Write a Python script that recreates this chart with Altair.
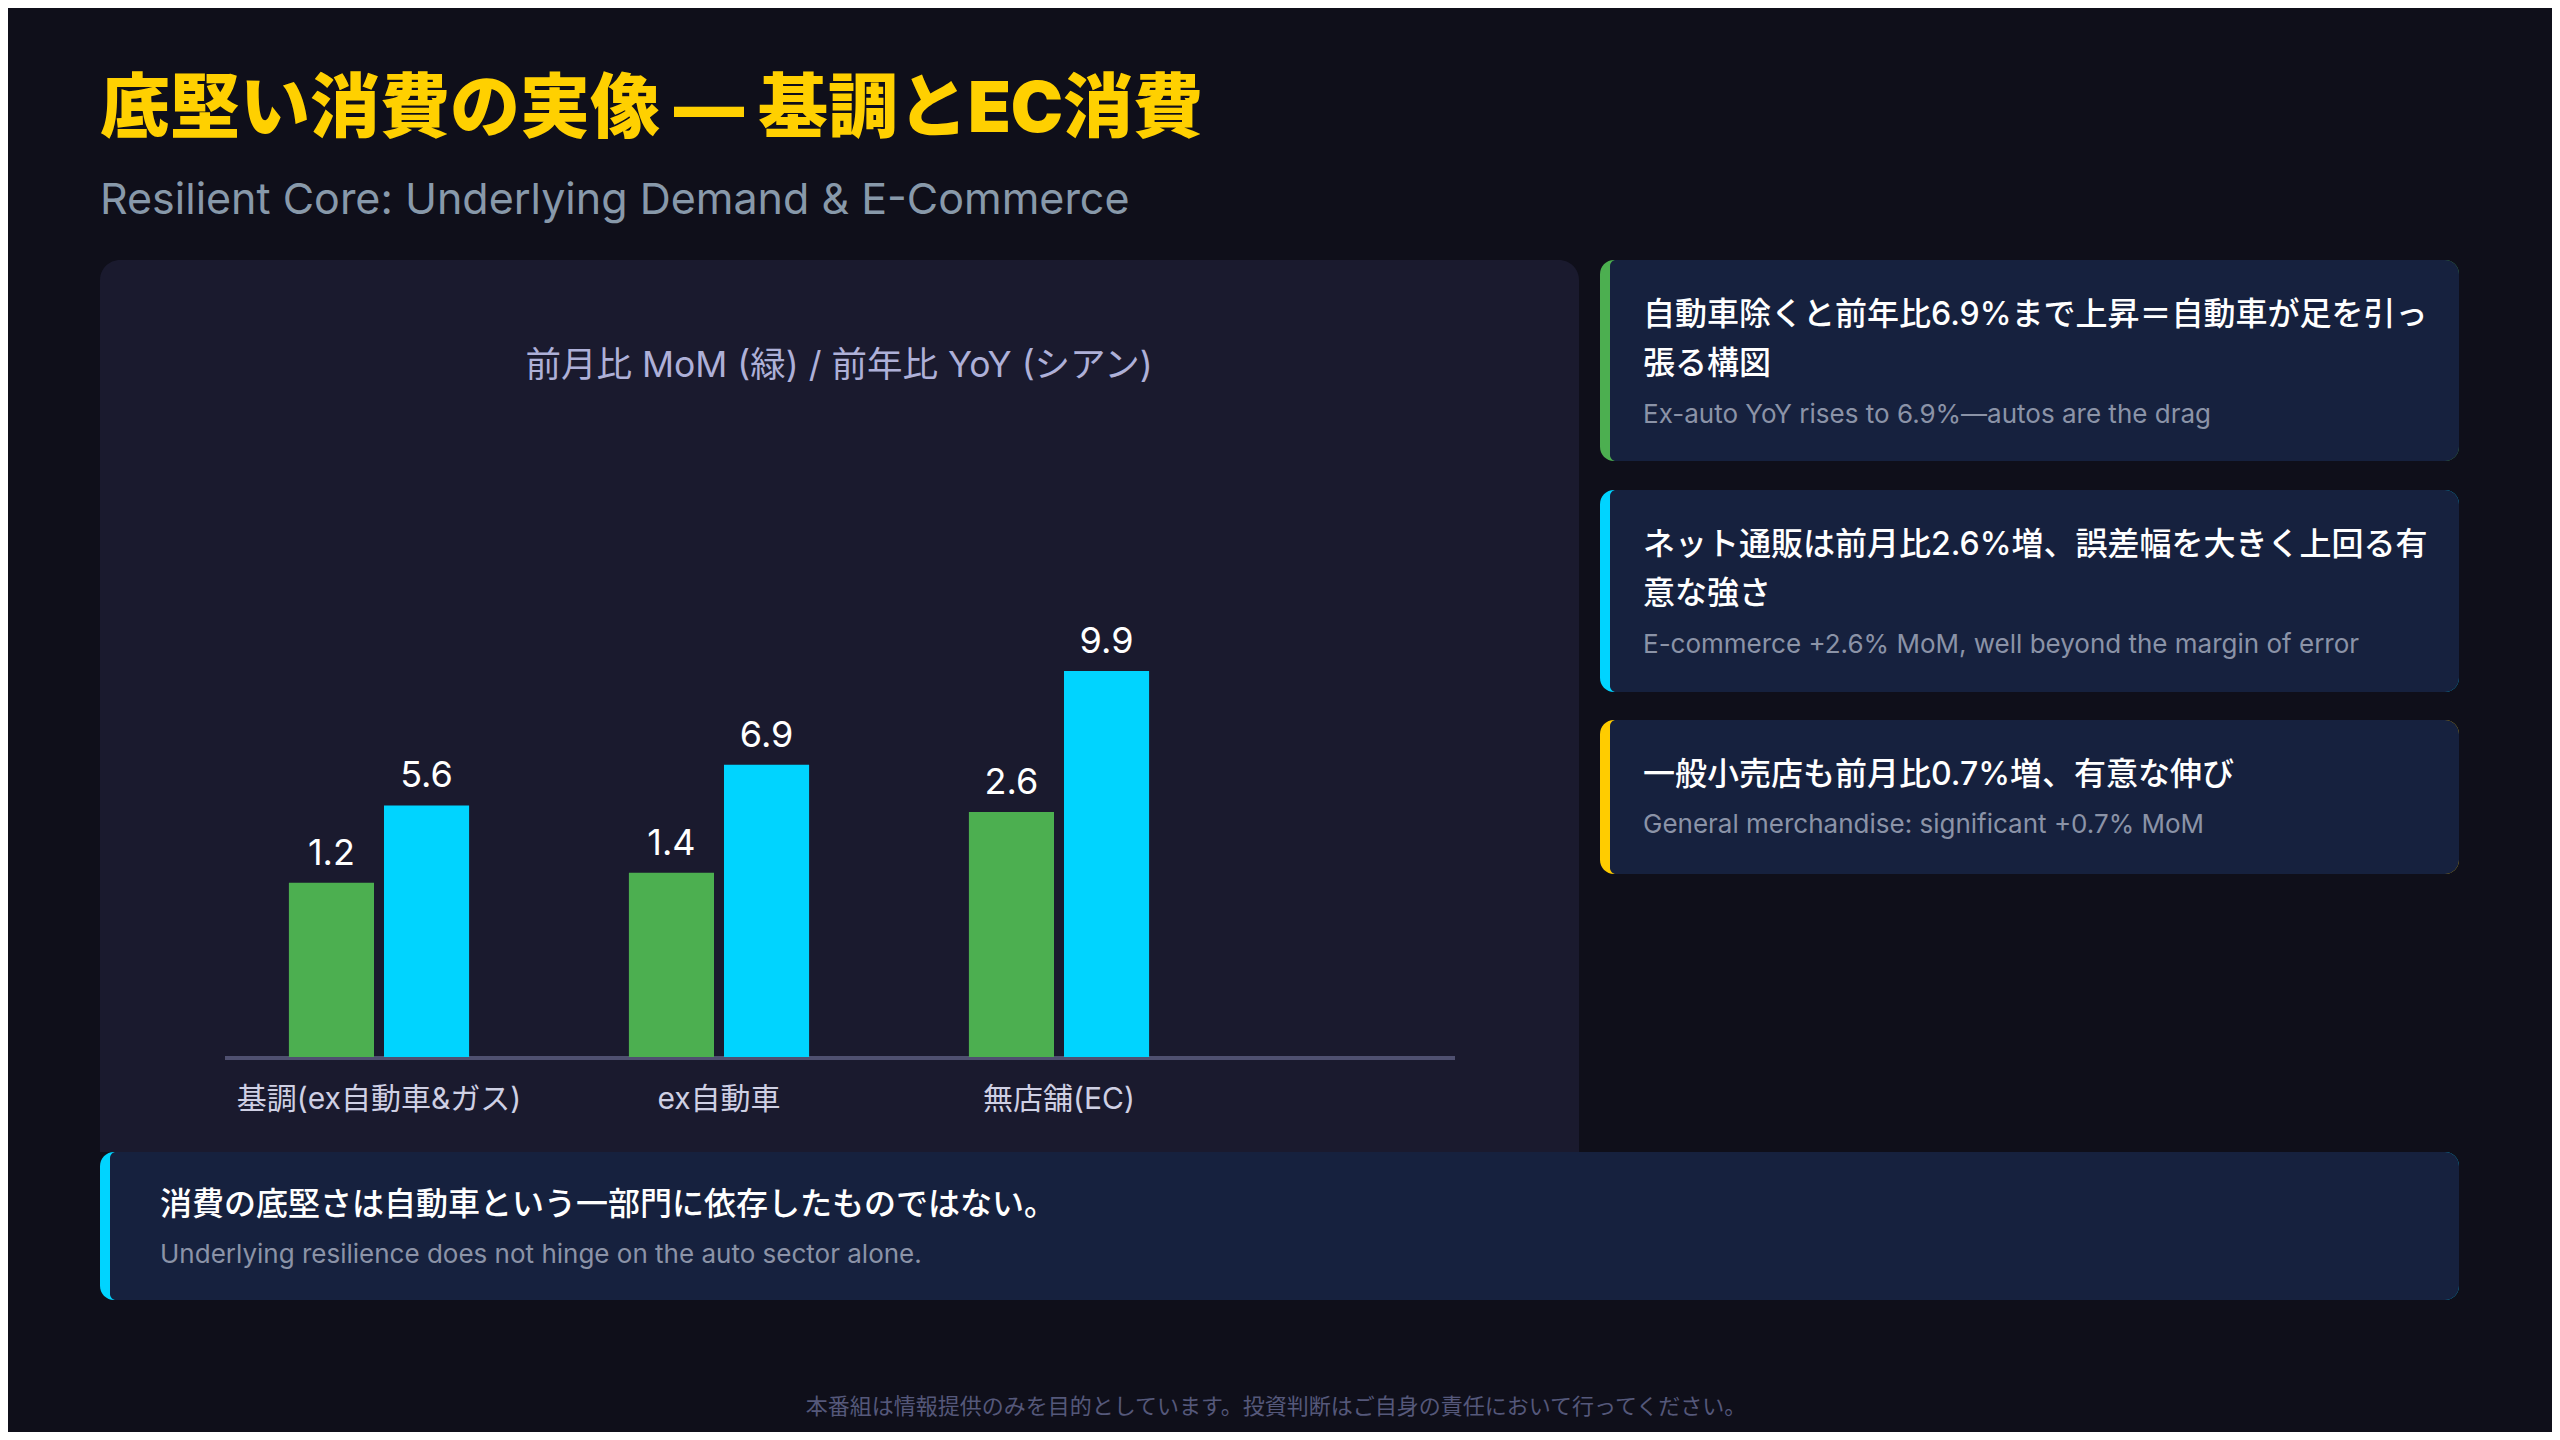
import altair as alt
import pandas as pd

FONT = "Inter, 'Noto Sans CJK JP', sans-serif"

PAGE_BG = "#0f0f1a"
PANEL_BG = "#1a1a2e"
CARD_BG = "#16213e"
GREEN = "#4caf50"
CYAN = "#00d4ff"
YELLOW = "#ffcc00"
GOLD = "#ffd000"
MUTED = "#8b93a7"

# --- data -----------------------------------------------------------------
CATEGORIES = ["基調(ex自動車&ガス)", "ex自動車", "無店舗(EC)"]
SERIES = ["MoM", "YoY"]
MOM = [1.2, 1.4, 2.6]
YOY = [5.6, 6.9, 9.9]

TITLE = "底堅い消費の実像 — 基調とEC消費"
SUBTITLE = "Resilient Core: Underlying Demand & E-Commerce"
CHART_TITLE = "前月比 MoM (緑) / 前年比 YoY (シアン)"

CARD_HEADLINES = [
    ["自動車除くと前年比6.9%まで上昇＝自動車が足を引っ", "張る構図"],
    ["ネット通販は前月比2.6%増、誤差幅を大きく上回る有", "意な強さ"],
    ["一般小売店も前月比0.7%増、有意な伸び"],
]
CARD_NOTES = [
    "Ex-auto YoY rises to 6.9%—autos are the drag",
    "E-commerce +2.6% MoM, well beyond the margin of error",
    "General merchandise: significant +0.7% MoM",
]
BANNER_HEADLINE = "消費の底堅さは自動車という一部門に依存したものではない。"
BANNER_NOTE = "Underlying resilience does not hinge on the auto sector alone."
FOOTER = "本番組は情報提供のみを目的としています。投資判断はご自身の責任において行ってください。"

# --- layout (page pixels; the canvas starts at the 8px body margin) --------
M = 8
W, H = 2560 - 2 * M, 1440 - 2 * M
CARD_ACCENTS = [GREEN, CYAN, YELLOW]
CARD_SPANS = [(260, 461), (490, 692), (720, 874)]
Y_BOTTOM, Y_TOP = 1057, 497
# the two series sit on their own (hidden) value axes
MOM_DOMAIN = [-2.24, 8.82]
YOY_DOMAIN = [-2.44, 15.46]

ONE = pd.DataFrame({"k": [0]})


def box(x, y, x2, y2, color, **mark):
    return (
        alt.Chart(ONE)
        .mark_rect(color=color, **mark)
        .encode(
            x=alt.value(x - M), x2=alt.value(x2 - M),
            y=alt.value(y - M), y2=alt.value(y2 - M),
        )
    )


def words(x, y, text, size, color, weight="normal", align="left"):
    return (
        alt.Chart(ONE)
        .mark_text(
            font=FONT, fontSize=size, color=color, fontWeight=weight,
            align=align, baseline="middle",
        )
        .encode(x=alt.value(x - M), y=alt.value(y - M), text=alt.value(text))
    )


def card(x, y, x2, y2, accent):
    return [
        box(x, y, x2, y2, accent, cornerRadius=14),
        box(x + 10, y, x2, y2, CARD_BG,
            cornerRadiusTopLeft=6, cornerRadiusBottomLeft=6,
            cornerRadiusTopRight=14, cornerRadiusBottomRight=14),
    ]


layers = [
    words(100, 111, TITLE, 70, GOLD, weight=900),
    words(100, 201, SUBTITLE, 43, "#8899aa"),
    box(100, 260, 1579, 1152, PANEL_BG,
        cornerRadiusTopLeft=20, cornerRadiusTopRight=20),
    words(839, 366, CHART_TITLE, 35.5, "#aeb0d8", align="center"),
]

for (top, bottom), accent, lines, note in zip(
    CARD_SPANS, CARD_ACCENTS, CARD_HEADLINES, CARD_NOTES
):
    layers += card(1600, top, 2459, bottom, accent)
    for i, line in enumerate(lines):
        layers.append(words(1643, top + 55 + 49 * i, line, 32, "white", weight=500))
    layers.append(words(1643, top + 55 + 50 * len(lines), note, 26, MUTED))

layers += card(100, 1152, 2459, 1300, CYAN)
layers.append(words(160, 1205, BANNER_HEADLINE, 32, "white", weight=500))
layers.append(words(160, 1255, BANNER_NOTE, 26, MUTED))
layers.append(words(1276, 1407, FOOTER, 22, "#55587a", align="center"))

# axis baseline
layers.append(
    alt.Chart(ONE)
    .mark_rule(color="#4f5070", strokeWidth=4)
    .encode(x=alt.value(225 - M), x2=alt.value(1455 - M), y=alt.value(1058 - M))
)

# --- bars -----------------------------------------------------------------
df = pd.DataFrame({
    "cat": CATEGORIES * 2,
    "series": [SERIES[0]] * len(MOM) + [SERIES[1]] * len(YOY),
    "value": MOM + YOY,
})

x_enc = alt.X(
    "cat:N", sort=CATEGORIES, axis=None,
    scale=alt.Scale(range=[209 - M, 1229 - M], paddingInner=0.47, paddingOuter=0.235),
)
xo_enc = alt.XOffset(
    "series:N", scale=alt.Scale(domain=SERIES, paddingInner=0.105, paddingOuter=0)
)


def series_layer(name, color, domain):
    sub = df[df["series"] == name]
    y_enc = alt.Y(
        "value:Q", axis=None,
        scale=alt.Scale(domain=domain, range=[Y_BOTTOM - M, Y_TOP - M],
                        nice=False, zero=False),
    )
    bars = (
        alt.Chart(sub)
        .mark_bar(color=color)
        .encode(x=x_enc, xOffset=xo_enc, y=y_enc, y2=alt.datum(domain[0]))
    )
    values = (
        alt.Chart(sub)
        .mark_text(font=FONT, fontSize=36, color="white", dy=-18, baseline="alphabetic")
        .encode(x=x_enc, xOffset=xo_enc, y=y_enc,
                text=alt.Text("value:Q", format=".1f"))
    )
    return alt.layer(bars, values)


cat_labels = (
    alt.Chart(pd.DataFrame({"cat": CATEGORIES}))
    .mark_text(font=FONT, fontSize=30, color="#cfd0e4", baseline="middle")
    .encode(x=x_enc, y=alt.value(1100 - M), text="cat:N")
)

layers += [
    series_layer("MoM", GREEN, MOM_DOMAIN),
    series_layer("YoY", CYAN, YOY_DOMAIN),
    cat_labels,
]

chart = (
    alt.layer(*layers)
    .resolve_scale(y="independent")
    .properties(width=W, height=H, padding=0, autosize=alt.AutoSizeParams(type="none"))
    .configure(background=PAGE_BG)
    .configure_view(stroke=None)
)

chart.save("out.html", embed_options={"renderer": "svg", "actions": False})
